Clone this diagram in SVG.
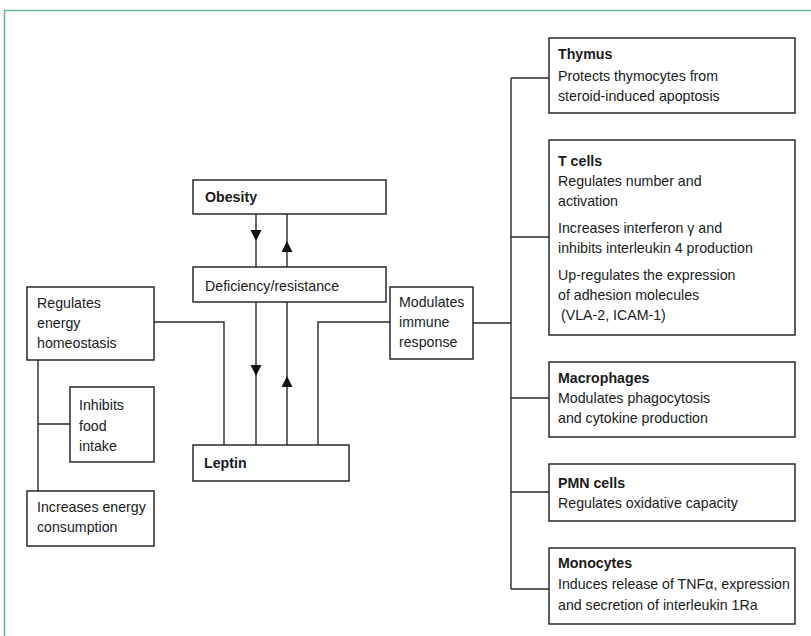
<svg xmlns="http://www.w3.org/2000/svg" width="811" height="636" viewBox="0 0 811 636">
<style>
.box{fill:#fff;stroke:#1a1a1a;stroke-width:1.4}
.ln{fill:none;stroke:#2a2a2a;stroke-width:1.4}
.t{font-family:"Liberation Sans",Arial,sans-serif;font-size:14.2px;fill:#1a1a1a}
.b{font-weight:bold}
.arr{fill:#111}
</style>
<defs>
<path id="down" d="M-5.5,-11 L5.5,-11 L0,0 Z"/>
<path id="up" d="M-5.5,11 L5.5,11 L0,0 Z"/>
</defs>
<rect width="811" height="636" fill="#fff"/>
<path d="M4.5,636 L4.5,10.5 L811,10.5" fill="none" stroke="#6db58f" stroke-width="1.5"/>
<g id="connectors">
<path class="ln" d="M256,214 V267 M287,214 V267 M256,302 V445 M287,302 V445"/>
<path class="ln" d="M224,445 V322 H154 M318,445 V322 H390 M473,323 H511"/>
<path class="ln" d="M511,78 V589 M511,78 H549 M511,237 H549 M511,398 H549 M511,492 H549 M511,589 H549"/>
<path class="ln" d="M38,360 V491 M38,424 H70"/>
<use href="#down" class="arr" x="256" y="241"/>
<use href="#up" class="arr" x="287" y="241"/>
<use href="#down" class="arr" x="256" y="376"/>
<use href="#up" class="arr" x="287" y="376"/>
</g>
<g id="obesity"><rect class="box" x="193" y="180" width="193" height="34"/><text class="t b" x="205" y="202">Obesity</text></g>
<g id="deficiency"><rect class="box" x="193" y="267" width="193" height="35"/><text class="t" x="205" y="291">Deficiency/resistance</text></g>
<g id="leptin"><rect class="box" x="193" y="445" width="156" height="36"/><text class="t b" x="204" y="468">Leptin</text></g>
<g id="energy"><rect class="box" x="27" y="287" width="127" height="73"/><text class="t" x="37" y="308">Regulates<tspan x="37" dy="20">energy</tspan><tspan x="37" dy="20">homeostasis</tspan></text></g>
<g id="food"><rect class="box" x="70" y="387" width="84" height="75"/><text class="t" x="79" y="410">Inhibits<tspan x="79" dy="20.5">food</tspan><tspan x="79" dy="20.5">intake</tspan></text></g>
<g id="consumption"><rect class="box" x="27" y="491" width="127" height="55"/><text class="t" x="37" y="512">Increases energy<tspan x="37" dy="20">consumption</tspan></text></g>
<g id="immune"><rect class="box" x="390" y="287" width="83" height="72"/><text class="t" x="399" y="307">Modulates<tspan x="399" dy="20">immune</tspan><tspan x="399" dy="20">response</tspan></text></g>
<g id="thymus"><rect class="box" x="549" y="38" width="246" height="75"/><text class="t" x="558" y="59"><tspan class="b">Thymus</tspan><tspan x="558" dy="22">Protects thymocytes from</tspan><tspan x="558" dy="20">steroid-induced apoptosis</tspan></text></g>
<g id="tcells"><rect class="box" x="549" y="140" width="246" height="195"/><text class="t" x="558" y="166"><tspan class="b">T cells</tspan><tspan x="558" dy="20">Regulates number and</tspan><tspan x="558" dy="20">activation</tspan><tspan x="558" dy="27">Increases interferon γ and</tspan><tspan x="558" dy="20">inhibits interleukin 4 production</tspan><tspan x="558" dy="27">Up-regulates the expression</tspan><tspan x="558" dy="19.5">of adhesion molecules</tspan><tspan x="561" dy="20.5">(VLA-2, ICAM-1)</tspan></text></g>
<g id="macrophages"><rect class="box" x="549" y="362" width="246" height="75"/><text class="t" x="558" y="383"><tspan class="b">Macrophages</tspan><tspan x="558" dy="20">Modulates phagocytosis</tspan><tspan x="558" dy="20">and cytokine production</tspan></text></g>
<g id="pmn"><rect class="box" x="549" y="464" width="246" height="57"/><text class="t" x="558" y="488"><tspan class="b">PMN cells</tspan><tspan x="558" dy="20">Regulates oxidative capacity</tspan></text></g>
<g id="monocytes"><rect class="box" x="549" y="548" width="246" height="76"/><text class="t" x="558" y="568"><tspan class="b">Monocytes</tspan><tspan x="558" dy="21">Induces release of TNFα, expression</tspan><tspan x="558" dy="21">and secretion of interleukin 1Ra</tspan></text></g>
</svg>
